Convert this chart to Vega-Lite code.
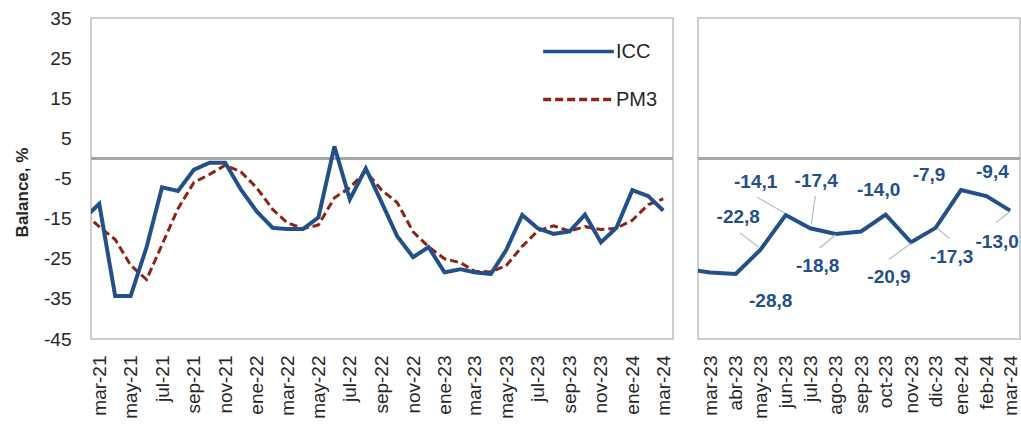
{
  "$schema": "https://vega.github.io/schema/vega-lite/v6.json",
  "background": "white",
  "padding": {"left": 12, "top": 8, "right": 0, "bottom": 0},
  "config": {
    "font": "Liberation Sans",
    "view": {"stroke": "#BFBFBF", "strokeWidth": 1.5},
    "axis": {"labelFont": "Liberation Sans", "labelColor": "#262626", "titleColor": "#262626", "grid": false, "ticks": false, "domain": false}
  },
  "spacing": 25,
  "bounds": "flush",
  "data": {
    "values": [
      {"mes": "feb-21", "date": "2021-02-01", "ICC": -14.8, "PM3": -13.8},
      {"mes": "mar-21", "date": "2021-03-01", "ICC": -11.3, "PM3": -17.0},
      {"mes": "abr-21", "date": "2021-04-01", "ICC": -34.3, "PM3": -20.2},
      {"mes": "may-21", "date": "2021-05-01", "ICC": -34.3, "PM3": -26.6},
      {"mes": "jun-21", "date": "2021-06-01", "ICC": -22.1, "PM3": -30.2},
      {"mes": "jul-21", "date": "2021-07-01", "ICC": -7.2, "PM3": -21.5},
      {"mes": "ago-21", "date": "2021-08-01", "ICC": -8.1, "PM3": -12.5},
      {"mes": "sep-21", "date": "2021-09-01", "ICC": -2.8, "PM3": -6.0},
      {"mes": "oct-21", "date": "2021-10-01", "ICC": -1.1, "PM3": -4.0},
      {"mes": "nov-21", "date": "2021-11-01", "ICC": -1.1, "PM3": -1.7},
      {"mes": "dic-21", "date": "2021-12-01", "ICC": -7.7, "PM3": -3.3},
      {"mes": "ene-22", "date": "2022-01-01", "ICC": -13.2, "PM3": -7.3},
      {"mes": "feb-22", "date": "2022-02-01", "ICC": -17.3, "PM3": -12.7},
      {"mes": "mar-22", "date": "2022-03-01", "ICC": -17.6, "PM3": -16.0},
      {"mes": "abr-22", "date": "2022-04-01", "ICC": -17.6, "PM3": -17.5},
      {"mes": "may-22", "date": "2022-05-01", "ICC": -14.7, "PM3": -16.6},
      {"mes": "jun-22", "date": "2022-06-01", "ICC": 3.0, "PM3": -9.8},
      {"mes": "jul-22", "date": "2022-07-01", "ICC": -10.2, "PM3": -7.3},
      {"mes": "ago-22", "date": "2022-08-01", "ICC": -2.5, "PM3": -3.2},
      {"mes": "sep-22", "date": "2022-09-01", "ICC": -11.0, "PM3": -7.9},
      {"mes": "oct-22", "date": "2022-10-01", "ICC": -19.4, "PM3": -11.0},
      {"mes": "nov-22", "date": "2022-11-01", "ICC": -24.6, "PM3": -18.3},
      {"mes": "dic-22", "date": "2022-12-01", "ICC": -22.1, "PM3": -22.0},
      {"mes": "ene-23", "date": "2023-01-01", "ICC": -28.4, "PM3": -25.0},
      {"mes": "feb-23", "date": "2023-02-01", "ICC": -27.6, "PM3": -26.0},
      {"mes": "mar-23", "date": "2023-03-01", "ICC": -28.4, "PM3": -28.1},
      {"mes": "abr-23", "date": "2023-04-01", "ICC": -28.8, "PM3": -28.3},
      {"mes": "may-23", "date": "2023-05-01", "ICC": -22.8, "PM3": -26.7},
      {"mes": "jun-23", "date": "2023-06-01", "ICC": -14.1, "PM3": -21.9},
      {"mes": "jul-23", "date": "2023-07-01", "ICC": -17.4, "PM3": -18.1},
      {"mes": "ago-23", "date": "2023-08-01", "ICC": -18.8, "PM3": -16.8},
      {"mes": "sep-23", "date": "2023-09-01", "ICC": -18.2, "PM3": -18.1},
      {"mes": "oct-23", "date": "2023-10-01", "ICC": -14.0, "PM3": -17.0},
      {"mes": "nov-23", "date": "2023-11-01", "ICC": -20.9, "PM3": -17.7},
      {"mes": "dic-23", "date": "2023-12-01", "ICC": -17.3, "PM3": -17.4},
      {"mes": "ene-24", "date": "2024-01-01", "ICC": -7.9, "PM3": -15.4},
      {"mes": "feb-24", "date": "2024-02-01", "ICC": -9.4, "PM3": -11.5},
      {"mes": "mar-24", "date": "2024-03-01", "ICC": -13.0, "PM3": -10.1}
    ]
  },
  "hconcat": [
    {
      "width": 582,
      "height": 321,
      "transform": [{"fold": ["ICC", "PM3"], "as": ["serie", "value"]}],
      "layer": [
        {
          "mark": {"type": "rule", "color": "#A6A6A6", "strokeWidth": 1.5},
          "encoding": {"y": {"datum": 0, "type": "quantitative"}}
        },
        {
          "transform": [{"filter": "datum.serie == 'PM3'"}],
          "mark": {"type": "line", "clip": true, "strokeWidth": 3},
          "encoding": {
            "x": {"field": "date", "type": "temporal"},
            "y": {"field": "value", "type": "quantitative"},
            "color": {"field": "serie", "type": "nominal"},
            "strokeDash": {"field": "serie", "type": "nominal"}
          }
        },
        {
          "transform": [{"filter": "datum.serie == 'ICC'"}],
          "mark": {"type": "line", "clip": true, "strokeWidth": 4},
          "encoding": {
            "x": {
              "field": "date",
              "type": "temporal",
              "scale": {"type": "utc", "domain": [{"year": 2021, "month": 2, "date": 13, "utc": true}, {"year": 2024, "month": 3, "date": 20, "utc": true}]},
              "axis": {
                "title": null,
                "tickCount": {"interval": "month", "step": 2},
                "labelExpr": "['ene','feb','mar','abr','may','jun','jul','ago','sep','oct','nov','dic'][utcmonth(datum.value)] + '-' + utcFormat(datum.value, '%y')",
                "labelAngle": 270,
                "labelFontSize": 19,
                "labelPadding": 16
              }
            },
            "y": {
              "field": "value",
              "type": "quantitative",
              "scale": {"domain": [-45, 35], "nice": false, "zero": false},
              "axis": {
                "values": [-45, -35, -25, -15, -5, 5, 15, 25, 35],
                "labelExpr": "datum.value < 0 ? '-' + (-datum.value) : '' + datum.value",
                "title": "Balance, %",
                "titleFontSize": 17,
                "titleFontWeight": "bold",
                "titlePadding": 12,
                "titleY": 174,
                "labelFontSize": 19,
                "labelPadding": 20
              }
            },
            "color": {
              "field": "serie",
              "type": "nominal",
              "scale": {"domain": ["ICC", "PM3"], "range": ["#24508A", "#8E2416"]},
              "legend": {
                "title": null,
                "orient": "none",
                "legendX": 450,
                "legendY": -4,
                "symbolType": "stroke",
                "symbolSize": 5000,
                "symbolStrokeWidth": 3.5,
                "labelFontSize": 20,
                "labelColor": "#262626",
                "labelOffset": 0,
                "rowPadding": -55,
                "padding": 0
              }
            },
            "strokeDash": {
              "field": "serie",
              "type": "nominal",
              "scale": {"domain": ["ICC", "PM3"], "range": [[1, 0], [8, 4]]},
              "legend": {
                "title": null,
                "orient": "none",
                "legendX": 450,
                "legendY": -4,
                "symbolType": "stroke",
                "symbolSize": 5000,
                "symbolStrokeWidth": 3.5,
                "labelFontSize": 20,
                "labelColor": "#262626",
                "labelOffset": 0,
                "rowPadding": -55,
                "padding": 0
              }
            }
          }
        }
      ]
    },
    {
      "width": 322,
      "height": 321,
      "transform": [{"calculate": "(datum.ICC < 0 ? '-' : '') + replace(format(abs(datum.ICC), '.1f'), '.', ',')", "as": "lbl"}],
      "layer": [
        {
          "mark": {"type": "rule", "color": "#A6A6A6", "strokeWidth": 1.5},
          "encoding": {"y": {"datum": 0, "type": "quantitative", "axis": null}}
        },
        {
          "mark": {"type": "line", "clip": true, "strokeWidth": 4, "color": "#24508A"},
          "encoding": {
            "x": {
              "field": "date",
              "type": "temporal",
              "scale": {"type": "utc", "domain": [{"year": 2023, "month": 2, "date": 14, "utc": true}, {"year": 2024, "month": 3, "date": 13, "utc": true}]},
              "axis": {
                "title": null,
                "tickCount": {"interval": "month", "step": 1},
                "labelExpr": "['ene','feb','mar','abr','may','jun','jul','ago','sep','oct','nov','dic'][utcmonth(datum.value)] + '-' + utcFormat(datum.value, '%y')",
                "labelAngle": 270,
                "labelFontSize": 19,
                "labelPadding": 16
              }
            },
            "y": {"field": "ICC", "type": "quantitative", "scale": {"domain": [-45, 35], "nice": false, "zero": false}, "axis": null}
          }
        },
        {"transform": [{"filter": "datum.mes == 'may-23'"}], "mark": {"type": "rule", "color": "#BFBFBF", "strokeWidth": 1.3, "xOffset": -20, "yOffset": -17, "x2Offset": -2, "y2Offset": -3},
         "encoding": {"x": {"field": "date", "type": "temporal"}, "y": {"field": "ICC", "type": "quantitative", "axis": null}, "x2": {"field": "date"}, "y2": {"field": "ICC"}}},
        {"transform": [{"filter": "datum.mes == 'jun-23'"}], "mark": {"type": "rule", "color": "#BFBFBF", "strokeWidth": 1.3, "xOffset": -29, "yOffset": -18, "x2Offset": -1, "y2Offset": -2},
         "encoding": {"x": {"field": "date", "type": "temporal"}, "y": {"field": "ICC", "type": "quantitative", "axis": null}, "x2": {"field": "date"}, "y2": {"field": "ICC"}}},
        {"transform": [{"filter": "datum.mes == 'jul-23'"}], "mark": {"type": "rule", "color": "#BFBFBF", "strokeWidth": 1.3, "xOffset": 5, "yOffset": -32, "x2Offset": 1, "y2Offset": -4},
         "encoding": {"x": {"field": "date", "type": "temporal"}, "y": {"field": "ICC", "type": "quantitative", "axis": null}, "x2": {"field": "date"}, "y2": {"field": "ICC"}}},
        {"transform": [{"filter": "datum.mes == 'ago-23'"}], "mark": {"type": "rule", "color": "#BFBFBF", "strokeWidth": 1.3, "xOffset": -16, "yOffset": 14, "x2Offset": 0, "y2Offset": 1},
         "encoding": {"x": {"field": "date", "type": "temporal"}, "y": {"field": "ICC", "type": "quantitative", "axis": null}, "x2": {"field": "date"}, "y2": {"field": "ICC"}}},
        {"transform": [{"filter": "datum.mes == 'nov-23'"}], "mark": {"type": "rule", "color": "#BFBFBF", "strokeWidth": 1.3, "xOffset": -22, "yOffset": 17, "x2Offset": 0, "y2Offset": 1},
         "encoding": {"x": {"field": "date", "type": "temporal"}, "y": {"field": "ICC", "type": "quantitative", "axis": null}, "x2": {"field": "date"}, "y2": {"field": "ICC"}}},
        {"transform": [{"filter": "datum.mes == 'dic-23'"}], "mark": {"type": "rule", "color": "#BFBFBF", "strokeWidth": 1.3, "xOffset": 2, "yOffset": 1, "x2Offset": 14, "y2Offset": 11},
         "encoding": {"x": {"field": "date", "type": "temporal"}, "y": {"field": "ICC", "type": "quantitative", "axis": null}, "x2": {"field": "date"}, "y2": {"field": "ICC"}}},
        {"transform": [{"filter": "datum.mes == 'mar-24'"}], "mark": {"type": "rule", "color": "#BFBFBF", "strokeWidth": 1.3, "xOffset": -14, "yOffset": 12, "x2Offset": 0, "y2Offset": 1},
         "encoding": {"x": {"field": "date", "type": "temporal"}, "y": {"field": "ICC", "type": "quantitative", "axis": null}, "x2": {"field": "date"}, "y2": {"field": "ICC"}}},
        {"transform": [{"filter": "datum.mes == 'abr-23'"}], "mark": {"type": "text", "dx": 35, "dy": 27, "fontSize": 19, "fontWeight": "bold", "color": "#24508A"},
         "encoding": {"x": {"field": "date", "type": "temporal"}, "y": {"field": "ICC", "type": "quantitative", "axis": null}, "text": {"field": "lbl", "type": "nominal"}}},
        {"transform": [{"filter": "datum.mes == 'may-23'"}], "mark": {"type": "text", "dx": -22, "dy": -33, "fontSize": 19, "fontWeight": "bold", "color": "#24508A"},
         "encoding": {"x": {"field": "date", "type": "temporal"}, "y": {"field": "ICC", "type": "quantitative", "axis": null}, "text": {"field": "lbl", "type": "nominal"}}},
        {"transform": [{"filter": "datum.mes == 'jun-23'"}], "mark": {"type": "text", "dx": -30, "dy": -33, "fontSize": 19, "fontWeight": "bold", "color": "#24508A"},
         "encoding": {"x": {"field": "date", "type": "temporal"}, "y": {"field": "ICC", "type": "quantitative", "axis": null}, "text": {"field": "lbl", "type": "nominal"}}},
        {"transform": [{"filter": "datum.mes == 'jul-23'"}], "mark": {"type": "text", "dx": 6, "dy": -47, "fontSize": 19, "fontWeight": "bold", "color": "#24508A"},
         "encoding": {"x": {"field": "date", "type": "temporal"}, "y": {"field": "ICC", "type": "quantitative", "axis": null}, "text": {"field": "lbl", "type": "nominal"}}},
        {"transform": [{"filter": "datum.mes == 'ago-23'"}], "mark": {"type": "text", "dx": -18, "dy": 32, "fontSize": 19, "fontWeight": "bold", "color": "#24508A"},
         "encoding": {"x": {"field": "date", "type": "temporal"}, "y": {"field": "ICC", "type": "quantitative", "axis": null}, "text": {"field": "lbl", "type": "nominal"}}},
        {"transform": [{"filter": "datum.mes == 'oct-23'"}], "mark": {"type": "text", "dx": -7, "dy": -25, "fontSize": 19, "fontWeight": "bold", "color": "#24508A"},
         "encoding": {"x": {"field": "date", "type": "temporal"}, "y": {"field": "ICC", "type": "quantitative", "axis": null}, "text": {"field": "lbl", "type": "nominal"}}},
        {"transform": [{"filter": "datum.mes == 'nov-23'"}], "mark": {"type": "text", "dx": -22, "dy": 35, "fontSize": 19, "fontWeight": "bold", "color": "#24508A"},
         "encoding": {"x": {"field": "date", "type": "temporal"}, "y": {"field": "ICC", "type": "quantitative", "axis": null}, "text": {"field": "lbl", "type": "nominal"}}},
        {"transform": [{"filter": "datum.mes == 'dic-23'"}], "mark": {"type": "text", "dx": 16, "dy": 29, "fontSize": 19, "fontWeight": "bold", "color": "#24508A"},
         "encoding": {"x": {"field": "date", "type": "temporal"}, "y": {"field": "ICC", "type": "quantitative", "axis": null}, "text": {"field": "lbl", "type": "nominal"}}},
        {"transform": [{"filter": "datum.mes == 'ene-24'"}], "mark": {"type": "text", "dx": -32, "dy": -15, "fontSize": 19, "fontWeight": "bold", "color": "#24508A"},
         "encoding": {"x": {"field": "date", "type": "temporal"}, "y": {"field": "ICC", "type": "quantitative", "axis": null}, "text": {"field": "lbl", "type": "nominal"}}},
        {"transform": [{"filter": "datum.mes == 'feb-24'"}], "mark": {"type": "text", "dx": 6, "dy": -24, "fontSize": 19, "fontWeight": "bold", "color": "#24508A"},
         "encoding": {"x": {"field": "date", "type": "temporal"}, "y": {"field": "ICC", "type": "quantitative", "axis": null}, "text": {"field": "lbl", "type": "nominal"}}},
        {"transform": [{"filter": "datum.mes == 'mar-24'"}], "mark": {"type": "text", "dx": -13, "dy": 31, "fontSize": 19, "fontWeight": "bold", "color": "#24508A"},
         "encoding": {"x": {"field": "date", "type": "temporal"}, "y": {"field": "ICC", "type": "quantitative", "axis": null}, "text": {"field": "lbl", "type": "nominal"}}}
      ]
    }
  ]
}
